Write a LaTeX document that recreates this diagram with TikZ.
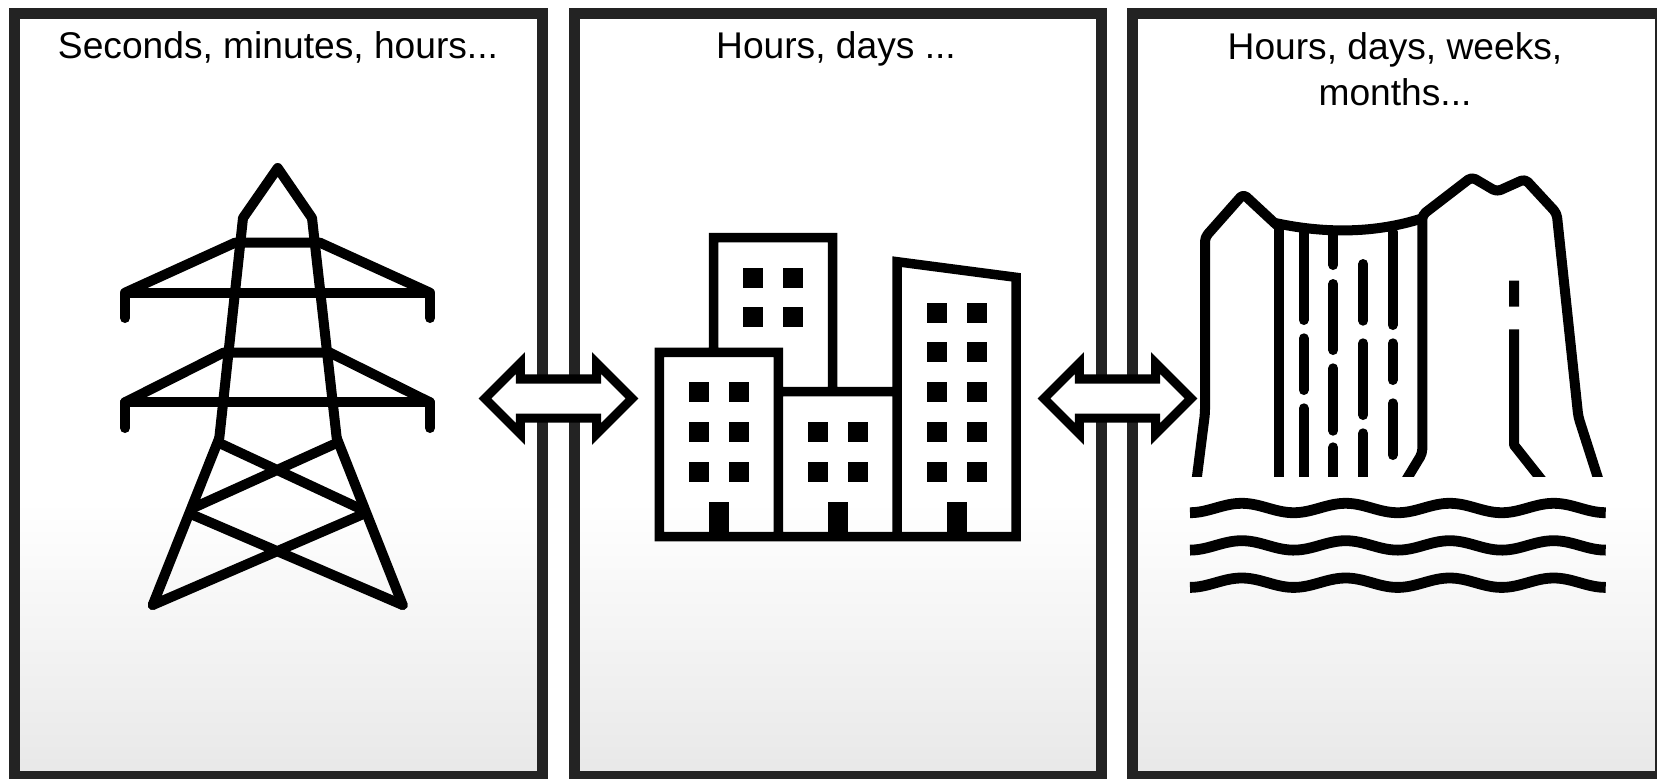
\documentclass[tikz,border=0pt]{standalone}
\usepackage{fontspec}
\setmainfont{Liberation Sans}
\usetikzlibrary{shapes.arrows}
\definecolor{framegray}{HTML}{232323}
\definecolor{fadegray}{HTML}{E8E8E8}
\pgfdeclareverticalshading{panelfade}{100bp}{color(0bp)=(fadegray); color(25bp)=(fadegray); color(43bp)=(white); color(100bp)=(white)}
\begin{document}
\begin{tikzpicture}[x=0.01cm,y=-0.01cm]
        \tikzset{panel/.style={draw=framegray, line width=0.11cm, shading=panelfade, minimum width=5.275cm, minimum height=7.63cm, outer sep=0pt, inner sep=0pt},
            heading/.style={font=\fontsize{10.57}{13.2}\selectfont, align=center, text=black},
            twoway/.style={double arrow, draw=black, fill=white, line width=0.09cm, minimum height=1.47cm, minimum width=0.66cm, double arrow head extend=0.16cm, double arrow head indent=0pt, inner sep=0.15cm, outer sep=0pt},
            icon/.style={draw=black, line width=0.1cm, line join=round, line cap=round},
            cliff/.style={icon, rounded corners=1.2pt},
            block/.style={draw=black, line width=0.095cm, line join=miter},
            water/.style={draw=black, line width=0.108cm}}
        \useasboundingbox (0,0) rectangle (1657,778);
        % panels
        \node[panel] (fast) at (278.25,395) {};
        \node[panel] (middle) at (838,395) {};
        \node[panel] (slow) at (1396.5,395) {};
        \node[heading, anchor=base] (fasttext) at (278,58) {Seconds, minutes, hours...};
        \node[heading, anchor=base] (middletext) at (836,58) {Hours, days ...};
        \node[heading] (slowtext) at (1395,69) {Hours, days, weeks,\\months...};
        \node[twoway] (fastmiddle) at (558.5,398.5) {};
        \node[twoway] (middleslow) at (1117.5,398.5) {};
        % pylon
        \draw[icon] (219.3,438) -- (243,218) -- (277.7,168) -- (312,218) -- (336.7,438);
        \draw[icon] (152.7,605) -- (219.3,438) (402.7,605) -- (336.7,438);
        \draw[icon] (219.3,443) -- (363,510) (336.7,443) -- (193,508);
        \draw[icon] (190.7,514) -- (402.7,605) (363.3,514) -- (152.7,605);
        \draw[icon] (125,318) -- (125,292.7) -- (430,292.7) -- (430,318);
        \draw[icon] (125,292.7) -- (235,242.7) -- (320,242.7) -- (430,292.7);
        \draw[icon] (125,428) -- (125,402.3) -- (430,402.3) -- (430,428);
        \draw[icon] (125,402.3) -- (223.3,352.7) -- (330,352.7) -- (430,402.3);
        % buildings
        \draw[block] (713.7,352.3) -- (713.7,237.7) -- (832.7,237.7) -- (832.7,391.7)
            (778.3,391.7) -- (897,391.7)
            (897,536.7) -- (897,261.7) -- (1016,277.3) -- (1016,536.7) -- (659.3,536.7) -- (659.3,352.3) -- (778.3,352.3) -- (778.3,536.7);
        \foreach \xa in {743.3,783.3} \foreach \ya in {267.7,307.3} \fill (\xa,\ya) rectangle ++(20,20);
        \foreach \xa in {689.3,728.7} \foreach \ya in {382,421.7,461.7} \fill (\xa,\ya) rectangle ++(20,20);
        \foreach \xa in {808,847.7} \foreach \ya in {421.7,461.7} \fill (\xa,\ya) rectangle ++(20,20);
        \foreach \xa in {927,966.7} \foreach \ya in {302.7,342.3,382,421.7,461.7} \fill (\xa,\ya) rectangle ++(20,20);
        \foreach \xa in {709,828,946.7} \fill (\xa,501.7) rectangle ++(20,35);
        % waterfall
        \begin{scope}
            \clip (1150,150) rectangle (1640,476);
            \draw[cliff] (1194,500) -- (1205,413.3) -- (1205,237.3) -- (1243.3,194) -- (1276.7,225);
            \draw[icon] (1276.7,223.3) .. controls (1325,233.5) and (1375,233.5) .. (1422.3,218.3);
            \draw[cliff] (1394,500) -- (1422.3,453.3) -- (1422.3,215) -- (1471.7,177) -- (1496.7,191.7) -- (1525,179) -- (1556.7,213.3) -- (1578.3,416.7) -- (1605,500);
            \draw[icon] (1278.7,225) -- (1278.7,500);
            \draw[icon] (1303.7,232) -- (1303.7,320) (1303.7,338.3) -- (1303.7,390) (1303.7,408.3) -- (1303.7,500);
            \draw[icon] (1333.3,235) -- (1333.3,265) (1333.3,284) -- (1333.3,350) (1333.3,368.3) -- (1333.3,430.7) (1333.3,447.3) -- (1333.3,500);
            \draw[icon] (1363.3,264) -- (1363.3,320.7) (1363.3,343.3) -- (1363.3,415) (1363.3,433.3) -- (1363.3,500);
            \draw[icon] (1392.7,232) -- (1392.7,325) (1392.7,343.3) -- (1392.7,380) (1392.7,403.3) -- (1392.7,455);
            \draw[icon, line cap=butt] (1514,280.7) -- (1514,306.7) (1514,329.3) -- (1514,445) -- (1552,493);
        \end{scope}
        \foreach \ya in {508,545.4,582.7}
            \draw[water] plot[domain=1190:1605.7, samples=90, smooth] (\x,{\ya-4.7*cos((\x-1241.7)*3.4615)});
\end{tikzpicture}
\end{document}
